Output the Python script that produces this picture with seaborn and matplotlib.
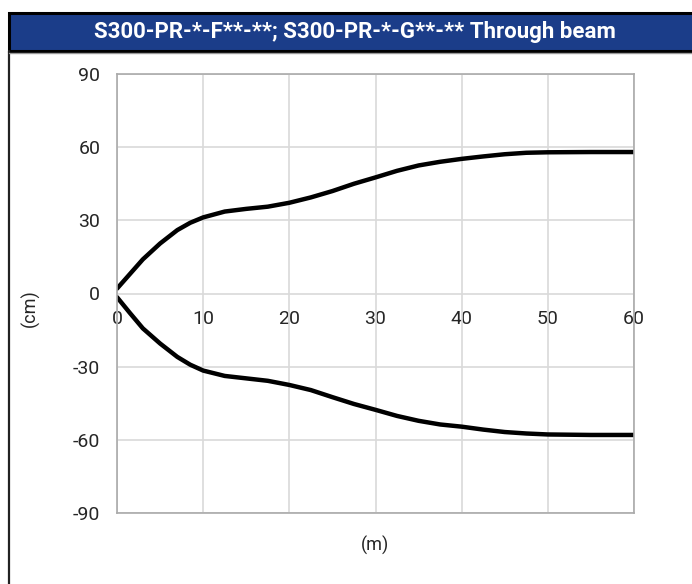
import matplotlib
matplotlib.use("Agg")
import matplotlib.pyplot as plt
import seaborn as sns
import pandas as pd
from matplotlib.patches import Rectangle
from matplotlib.lines import Line2D

# distance (m) and beam half-width (cm)
distance = [0, 1.5, 3, 5, 7, 8.5, 10, 12.5, 15, 17.5, 20, 22.5, 25, 27.5, 30,
            32.5, 35, 37.5, 40, 42.5, 45, 47.5, 50, 55, 60]
upper = [2, 8, 14, 20.5, 26, 29, 31.2, 33.6, 34.7, 35.6, 37.2, 39.4, 42, 45, 47.6,
         50.3, 52.5, 54, 55.2, 56.2, 57.1, 57.7, 57.9, 58, 58]
lower = [-1.5, -8, -14.3, -20.5, -26, -29.2, -31.6, -33.8, -34.8, -35.8, -37.5, -39.6,
         -42.5, -45.3, -47.7, -50.2, -52.2, -53.7, -54.6, -55.8, -56.8, -57.4, -57.8, -58, -58]

x_ticks = [0, 10, 20, 30, 40, 50, 60]
y_ticks = [-90, -60, -30, 0, 30, 60, 90]
title = "S300-PR-*-F**-**; S300-PR-*-G**-** Through beam"

sns.set_style("white")
plt.rcParams['font.family'] = ['Roboto', 'DejaVu Sans']
plt.rcParams['axes.unicode_minus'] = False

df = pd.DataFrame({'m': distance * 2, 'cm': upper + lower,
                   'side': ['up'] * len(upper) + ['down'] * len(lower)})

fig = plt.figure(figsize=(6.92, 5.84), dpi=100)
ax = fig.add_axes([117 / 692, 71 / 584, 517 / 692, 439 / 584])

sns.lineplot(data=df, x='m', y='cm', units='side', estimator=None, color='black',
             linewidth=3.2, ax=ax, legend=False)

ax.set_xlim(0, 60)
ax.set_ylim(-90, 90)
ax.set_xticks(x_ticks)
ax.set_yticks(y_ticks)
ax.grid(True, color='#d9d9d9', linewidth=1.2)
for s in ax.spines.values():
    s.set_color('#aaaaaa')
    s.set_linewidth(1.2)
ax.tick_params(axis='both', length=0, labelsize=14)
ax.tick_params(axis='y', pad=12)
ax.tick_params(axis='x', labelbottom=False)
ax.set_xlabel('')
ax.set_ylabel('')

# x tick labels sit just below the zero line
sec = ax.secondary_xaxis(0.5)
sec.set_xticks(x_ticks)
for s in sec.spines.values():
    s.set_visible(False)
sec.xaxis.set_ticks_position('bottom')
sec.tick_params(length=0, labelsize=14, pad=12, labelbottom=True, labeltop=False)

fig.text(375 / 692, 1 - 545 / 584, '(m)', ha='center', va='center', fontsize=13)
fig.text(30 / 692, 1 - 308 / 584, '(cm)', ha='center', va='center', fontsize=13, rotation=90)

# title bar and frame
fig.patches.append(Rectangle((9 / 692, 1 - 51 / 584), 1, 38 / 584, transform=fig.transFigure,
                             facecolor='#1b3d89', edgecolor='black', linewidth=2.2))
fig.lines.append(Line2D([9 / 692, 9 / 692], [0, 1 - 51 / 584], transform=fig.transFigure,
                        color='#222222', linewidth=1.6))
fig.lines.append(Line2D([9 / 692, 1], [1 - 52.5 / 584, 1 - 52.5 / 584], transform=fig.transFigure,
                        color='#999999', linewidth=1))
fig.text(355 / 692, 1 - 32 / 584, title, ha='center', va='center', color='white',
         fontsize=16, fontweight='bold')

fig.savefig('out.png', dpi=100)
